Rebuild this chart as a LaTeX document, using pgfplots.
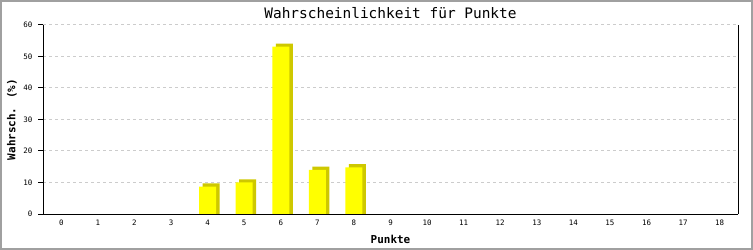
\documentclass[border=0pt]{standalone}
\usepackage{pgfplots}
\pgfplotsset{compat=1.18}
\usepackage{fontspec}
\setmainfont{DejaVu Sans Mono}
\definecolor{baryellow}{RGB}{255,255,0}
\definecolor{barside}{RGB}{206,200,0}
\definecolor{framegray}{RGB}{160,160,160}
\begin{document}
\begin{tikzpicture}
\useasboundingbox (0,0) rectangle (753bp,250bp);
\fill[white] (0,0) rectangle (753bp,250bp);
\draw[framegray, line width=2bp] (1bp,1bp) rectangle (752bp,249bp);
\begin{axis}[
  at={(43bp,36bp)}, anchor=south west,
  scale only axis, width=695bp, height=189bp,
  xmin=-0.5, xmax=18.5, ymin=0, ymax=60,
  axis x line=bottom, axis y line=box,
  axis line style={-, black, line width=1bp},
  xtick={0,...,18}, ytick={0,10,...,60},
  ytick pos=left, tick align=outside,
  major tick length=5bp,
  x tick style={draw=none},
  y tick style={black, line width=1bp},
  ymajorgrids,
  grid style={gray!40, line width=1bp, dash pattern=on 2.5bp off 3.5bp},
  /pgf/number format/assume math mode=true,
  tick label style={font=\fontsize{7.5}{7.5}\selectfont},
  xticklabel style={anchor=center, yshift=-4bp},
  yticklabel style={xshift=-2bp},
  title={Wahrscheinlichkeit für Punkte},
  title style={font=\fontsize{14.5}{14.5}\selectfont, at={(axis description cs:0.5,1.03)}, anchor=center},
  xlabel={\textbf{Punkte}},
  xlabel style={font=\fontsize{11}{11}\selectfont, at={(axis description cs:0.5,-0.132)}, anchor=center},
  ylabel={\textbf{Wahrsch. (\%)}},
  ylabel style={font=\fontsize{11}{11}\selectfont, at={(axis description cs:-0.0446,0.5)}, anchor=center},
  clip=false,
]
\addplot[ybar, bar width=17bp, bar shift=3.5bp, fill=barside, draw=none]
  coordinates {(4,9.7) (5,11.0) (6,54.1) (7,15.0) (8,15.8)};
\addplot[ybar, bar width=17bp, bar shift=0bp, fill=baryellow, draw=none]
  coordinates {(4,8.7) (5,10.0) (6,53.1) (7,14.0) (8,14.8)};
\draw[black, line width=1bp] (axis cs:-0.5,0) -- (axis cs:18.5,0);
\end{axis}
\end{tikzpicture}
\end{document}
